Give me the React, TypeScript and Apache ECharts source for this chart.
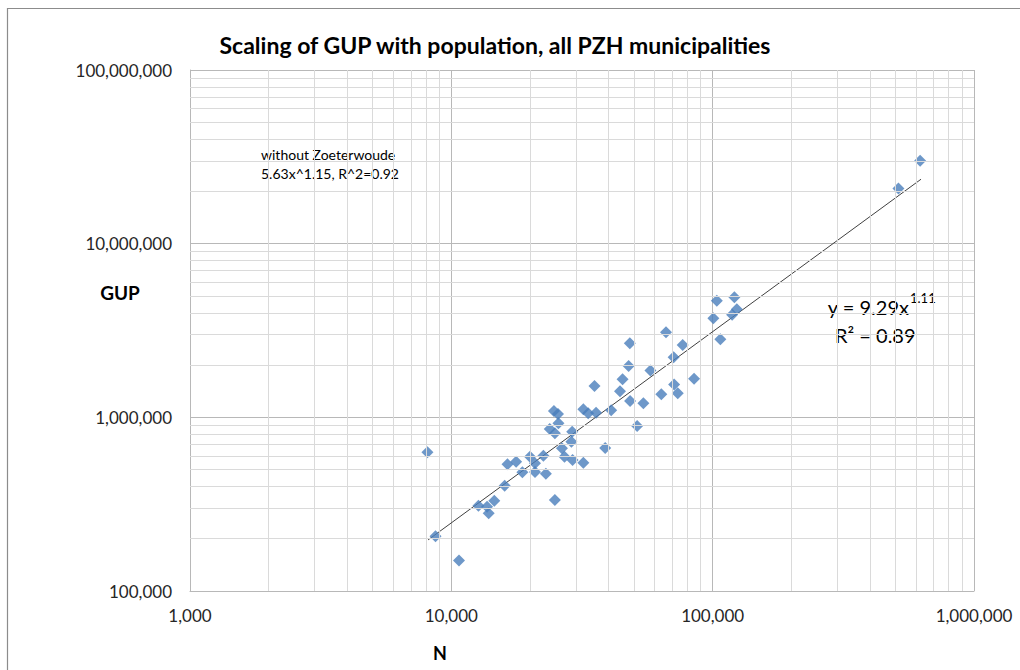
import React, { useEffect, useRef } from "react";
import * as echarts from "echarts";

// Population (N) of each municipality
const populationN: number[] = [
  8100, 8700, 10700, 12700, 13700, 14600, 13900, 16000, 16400, 17700,
  18700, 20000, 20900, 20900, 22500, 23000, 24900, 23800, 24700, 25600,
  25700, 24900, 26500, 27100, 29000, 28800, 29100, 32000, 32000, 33400,
  35800, 35300, 38800, 40900, 44200, 45200, 47700, 48200, 48300, 51400,
  54300, 57800, 63600, 66300, 70900, 71200, 73500, 76800, 84900, 100600,
  103700, 107000, 118700, 121100, 123700, 514000, 622000,
];

// Gross Urban Product (GUP) of each municipality
const gupValues: number[] = [
  630000, 207000, 150000, 310000, 306000, 331000, 280000, 404000, 536000, 555000,
  483000, 593000, 544000, 484000, 601000, 474000, 334000, 856000, 1087000, 1045000,
  924000, 809000, 663000, 593000, 826000, 724000, 568000, 548000, 1112000, 1054000,
  1063000, 1514000, 666000, 1097000, 1411000, 1657000, 1974000, 2667000, 1241000, 891000,
  1204000, 1859000, 1358000, 3086000, 2215000, 1545000, 1375000, 2608000, 1668000, 3715000,
  4691000, 2812000, 3896000, 4907000, 4185000, 20800000, 30000000,
];

// Power-law trend line end points
const trendN: number[] = [8150, 627000];
const trendGUP: number[] = [197000, 23500000];

// Axis ranges / tick labels
const xDecades: number[] = [1000, 10000, 100000, 1000000];
const yDecades: number[] = [100000, 1000000, 10000000, 100000000];
const minorMultipliers: number[] = [2, 3, 4, 5, 6, 7, 8, 9];

const FONT = "Lato, 'Open Sans', sans-serif";

export default function App() {
  const ref = useRef<HTMLDivElement>(null);

  useEffect(() => {
    if (!ref.current) return;
    const chart = echarts.init(ref.current, null, { renderer: "svg" });

    const minorX: number[] = [];
    xDecades.slice(0, -1).forEach((d) => minorMultipliers.forEach((m) => minorX.push(d * m)));
    const minorY: number[] = [];
    yDecades.slice(0, -1).forEach((d) => minorMultipliers.forEach((m) => minorY.push(d * m)));

    const fmt = (v: number) => Math.round(v).toLocaleString("en-US");

    chart.setOption({
      animation: false,
      backgroundColor: "#ffffff",
      grid: { left: 190, right: 46, top: 70, bottom: 79, containLabel: false },
      xAxis: {
        type: "log",
        logBase: 10,
        min: xDecades[0],
        max: xDecades[xDecades.length - 1],
        axisLine: { show: true, lineStyle: { color: "#b8b8b8", width: 1 } },
        axisTick: { show: false },
        axisLabel: {
          formatter: fmt,
          fontFamily: FONT,
          fontSize: 17,
          color: "#262626",
          margin: 16,
          hideOverlap: false,
          showMinLabel: true,
          showMaxLabel: true,
        },
        splitLine: { show: true, lineStyle: { color: "#b8b8b8", width: 1 } },
      },
      yAxis: {
        type: "log",
        logBase: 10,
        min: yDecades[0],
        max: yDecades[yDecades.length - 1],
        axisLine: { show: true, lineStyle: { color: "#b8b8b8", width: 1 } },
        axisTick: { show: false },
        axisLabel: {
          formatter: fmt,
          fontFamily: FONT,
          fontSize: 17,
          color: "#262626",
          margin: 18,
          hideOverlap: false,
        },
        splitLine: { show: true, lineStyle: { color: "#b8b8b8", width: 1 } },
      },
      series: [
        {
          name: "minorGrid",
          type: "scatter",
          data: [],
          z: 1,
          silent: true,
          markLine: {
            silent: true,
            symbol: "none",
            label: { show: false },
            lineStyle: { color: "#dadada", width: 1, type: "solid" },
            data: [
              ...minorX.map((v) => ({ xAxis: v })),
              ...minorY.map((v) => ({ yAxis: v })),
            ],
          },
        },
        {
          name: "trend",
          type: "line",
          z: 3,
          symbol: "none",
          lineStyle: { color: "#404040", width: 1 },
          data: trendN.map((n, i) => [n, trendGUP[i]]),
        },
        {
          name: "GUP",
          type: "scatter",
          z: 4,
          symbol: "diamond",
          symbolSize: 12,
          itemStyle: { color: "#4a7ebb" },
          data: populationN.map((n, i) => [n, gupValues[i]]),
        },
      ],
      graphic: [
        {
          type: "rect",
          silent: true,
          shape: { x: 7.5, y: 8.5, width: 1040, height: 700 },
          style: { fill: "none", stroke: "#8c8c8c", lineWidth: 1.2 },
        },
        {
          type: "text",
          x: 495,
          y: 45,
          style: {
            text: "Scaling of GUP with population, all PZH municipalities",
            font: `bold 23px ${FONT}`,
            fill: "#000000",
            textAlign: "center",
            textVerticalAlign: "middle",
          },
        },
        {
          type: "text",
          x: 440,
          y: 653,
          style: {
            text: "N",
            font: `bold 18px ${FONT}`,
            fill: "#000000",
            textAlign: "center",
            textVerticalAlign: "middle",
          },
        },
        {
          type: "text",
          x: 120,
          y: 292,
          style: {
            text: "GUP",
            font: `bold 19px ${FONT}`,
            fill: "#000000",
            textAlign: "center",
            textVerticalAlign: "middle",
          },
        },
        {
          type: "text",
          x: 261,
          y: 154,
          style: {
            text: "without Zoeterwoude",
            font: `14px ${FONT}`,
            fill: "#000000",
            textAlign: "left",
            textVerticalAlign: "middle",
          },
        },
        {
          type: "text",
          x: 261,
          y: 173,
          style: {
            text: "5.63x^1.15, R^2=0.92",
            font: `14px ${FONT}`,
            fill: "#000000",
            textAlign: "left",
            textVerticalAlign: "middle",
          },
        },
        {
          type: "text",
          x: 909,
          y: 307,
          style: {
            text: "y = 9.29x",
            font: `20px ${FONT}`,
            fill: "#000000",
            textAlign: "right",
            textVerticalAlign: "middle",
          },
        },
        {
          type: "text",
          x: 910,
          y: 298,
          style: {
            text: "1.11",
            font: `13px ${FONT}`,
            fill: "#000000",
            textAlign: "left",
            textVerticalAlign: "middle",
          },
        },
        {
          type: "text",
          x: 835,
          y: 335,
          style: {
            text: "R² = 0.89",
            font: `20px ${FONT}`,
            fill: "#000000",
            textAlign: "left",
            textVerticalAlign: "middle",
          },
        },
      ],
    });

    return () => chart.dispose();
  }, []);

  return (
    <div
      ref={ref}
      style={{ position: "fixed", left: 0, top: 0, width: 1020, height: 670 }}
    />
  );
}
